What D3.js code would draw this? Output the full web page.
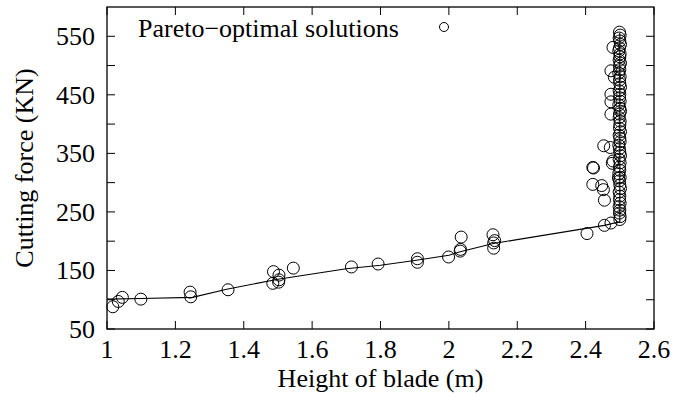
<!DOCTYPE html>
<html>
<head>
<meta charset="utf-8">
<script src="https://cdn.jsdelivr.net/npm/d3@7"></script>
<style>
  body { margin: 0; background: #fff; }
</style>
</head>
<body>
<svg id="chart" width="689" height="396"></svg>
<script>
// scattered solutions (height of blade, cutting force)
const frontX = [1.017, 1.033, 1.045, 1.099, 1.243, 1.245, 1.354, 1.487, 1.485, 1.503, 1.503, 1.502,
  1.545, 1.715, 1.793, 1.908, 1.908, 1.999, 2.033, 2.034, 2.036, 2.129, 2.134, 2.131, 2.131,
  2.404, 2.455, 2.474, 2.455, 2.453, 2.472, 2.421, 2.423, 2.421, 2.447, 2.452, 2.480, 2.478,
  2.496, 2.480, 2.474, 2.484, 2.474, 2.474, 2.474];
const frontY = [88, 97, 104, 101, 113, 105, 117, 148, 128, 142, 134, 130,
  154, 156, 161, 170, 164, 173, 183, 186, 207, 211, 201, 188, 197,
  213, 227, 231, 270, 363, 360, 326, 325, 297, 295, 288, 337, 333,
  308, 531, 491, 480, 451, 438, 417];

// the dense column of solutions at the blade height limit
const columnX = [2.499, 2.501, 2.498, 2.500, 2.502, 2.499, 2.497, 2.501, 2.500, 2.498,
  2.502, 2.499, 2.500, 2.497, 2.501, 2.499, 2.500, 2.502, 2.498, 2.500,
  2.499, 2.501, 2.497, 2.500, 2.502, 2.499, 2.498, 2.501, 2.500, 2.499,
  2.502, 2.498, 2.500, 2.501, 2.497, 2.499, 2.500, 2.502, 2.498, 2.501,
  2.499, 2.500, 2.497, 2.501, 2.499, 2.500, 2.502, 2.498, 2.500, 2.499,
  2.501, 2.498, 2.500, 2.499, 2.501, 2.500];
const columnY = [557, 552, 547, 542, 536, 530, 525, 520, 515, 509,
  504, 499, 493, 487, 481, 475, 469, 463, 457, 451,
  445, 439, 433, 427, 422, 417, 411, 405, 399, 393,
  387, 381, 376, 370, 364, 358, 352, 346, 340, 334,
  327, 321, 315, 309, 303, 296, 290, 284, 277, 271,
  265, 259, 253, 248, 242, 237];

// fitted front line
const lineX = [1.0, 1.1, 1.25, 1.35, 1.5, 1.7, 1.8, 1.9, 2.0, 2.033, 2.13, 2.455, 2.5, 2.5];
const lineY = [101, 102, 104, 118, 135, 153, 159, 167, 176, 182, 196, 227, 233, 556];

const xTicks = [1, 1.2, 1.4, 1.6, 1.8, 2, 2.2, 2.4, 2.6];
const yTicks = [50, 150, 250, 350, 450, 550];
const yMinor = [100, 200, 300, 400, 500];

const margin = { top: 7, right: 35, bottom: 67, left: 107 };
const width = 689 - margin.left - margin.right;
const height = 396 - margin.top - margin.bottom;
const fs = 26;
const font = '"Liberation Serif", "DejaVu Serif", "Times New Roman", serif';

const x = d3.scaleLinear().domain([1, 2.6]).range([0, width]);
const y = d3.scaleLinear().domain([50, 600]).range([height, 0]);

const svg = d3.select('#chart')
  .attr('font-family', font)
  .style('font-family', font);
const g = svg.append('g').attr('transform', `translate(${margin.left},${margin.top})`);

// inward ticks on all four sides
const tickLen = 8;
function ticks(sel, vals, fn) {
  sel.selectAll(null).data(vals).enter().append('line')
    .attr('stroke', '#000').attr('stroke-width', 1)
    .each(function(d) { fn(d3.select(this), d); });
}
ticks(g, xTicks, (s, d) => s.attr('x1', x(d)).attr('x2', x(d)).attr('y1', height).attr('y2', height - tickLen));
ticks(g, xTicks, (s, d) => s.attr('x1', x(d)).attr('x2', x(d)).attr('y1', 0).attr('y2', tickLen));
ticks(g, yTicks.concat(yMinor), (s, d) => s.attr('x1', 0).attr('x2', tickLen).attr('y1', y(d)).attr('y2', y(d)));
ticks(g, yTicks.concat(yMinor), (s, d) => s.attr('x1', width).attr('x2', width - tickLen).attr('y1', y(d)).attr('y2', y(d)));

g.append('rect')
  .attr('width', width).attr('height', height)
  .attr('fill', 'none').attr('stroke', '#000').attr('stroke-width', 1.3);

// tick labels
g.selectAll('.xl').data(xTicks).enter().append('text')
  .attr('x', d => x(d)).attr('y', height + 29)
  .attr('text-anchor', 'middle').attr('font-size', fs)
  .text(d => d);
g.selectAll('.yl').data(yTicks).enter().append('text')
  .attr('x', -12).attr('y', d => y(d) + 9)
  .attr('text-anchor', 'end').attr('font-size', fs)
  .text(d => d);

// axis titles
g.append('text')
  .attr('x', width / 2).attr('y', height + 58)
  .attr('text-anchor', 'middle').attr('font-size', fs)
  .text('Height of blade (m)');
svg.append('text')
  .attr('transform', `translate(33,${margin.top + height / 2}) rotate(-90)`)
  .attr('text-anchor', 'middle').attr('font-size', fs)
  .text('Cutting force (KN)');

// fitted line
const line = d3.line().x(d => x(d[0])).y(d => y(d[1]));
g.append('path')
  .datum(d3.zip(lineX, lineY))
  .attr('d', line)
  .attr('fill', 'none').attr('stroke', '#000').attr('stroke-width', 1.1);

// circles
const pts = d3.zip(frontX.concat(columnX), frontY.concat(columnY));
g.selectAll('circle.pt').data(pts).enter().append('circle')
  .attr('class', 'pt')
  .attr('cx', d => x(d[0])).attr('cy', d => y(d[1]))
  .attr('r', 6)
  .attr('fill', 'none').attr('stroke', '#000').attr('stroke-width', 1);

// legend
g.append('text')
  .attr('x', 31).attr('y', 30)
  .attr('font-size', fs)
  .text('Pareto\u2212optimal solutions');
g.append('circle')
  .attr('cx', 337).attr('cy', 20).attr('r', 4.5)
  .attr('fill', 'none').attr('stroke', '#000').attr('stroke-width', 1);
</script>
</body>
</html>
